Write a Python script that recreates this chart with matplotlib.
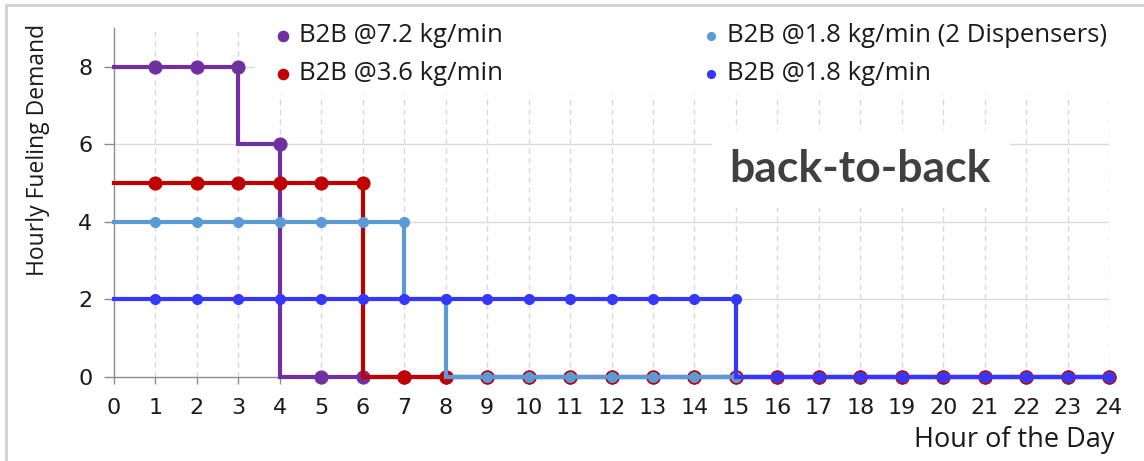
import matplotlib
matplotlib.use("Agg")
import matplotlib.pyplot as plt
from matplotlib.lines import Line2D
from matplotlib.patches import Rectangle

# Hourly fueling demand for back-to-back fueling scenarios
hours = list(range(0, 25))
b2b_72 = [8, 8, 8, 8, 6] + [0] * 20
b2b_36 = [5] * 7 + [0] * 18
b2b_18_two = [4] * 8 + [2] + [0] * 16
b2b_18 = [2] * 16 + [0] * 9

series_labels = ["B2B @7.2 kg/min", "B2B @3.6 kg/min",
                 "B2B @1.8 kg/min (2 Dispensers)", "B2B @1.8 kg/min"]
series_colors = ["#7030A0", "#C00000", "#5B9BD5", "#3636FF"]
series_msize = [9.2, 9.2, 7.0, 7.0]
y_ticks = [0, 2, 4, 6, 8]

W, H = 1144, 461
fig = plt.figure(figsize=(W / 100, H / 100), dpi=100)
ax = fig.add_axes([114 / W, 1 - 377 / H, (1109 - 114) / W, (377 - 28) / H])

series = [b2b_72, b2b_36, b2b_18_two, b2b_18]
for i, (vals, col, ms) in enumerate(zip(series, series_colors, series_msize)):
    ax.plot(hours, vals, drawstyle="steps-pre", color=col, lw=3.0,
            zorder=3 + i, solid_joinstyle="miter", clip_on=False)
    ax.plot(hours[1:], vals[1:], ls="none", marker="o", ms=ms, color=col,
            zorder=3 + i, clip_on=False)

ax.set_xlim(0, 24)
ax.set_ylim(0, 9)
ax.set_xticks(hours)
ax.set_yticks(y_ticks)

# grid: solid horizontal, dashed vertical
for y in y_ticks[1:]:
    ax.axhline(y, color="#d9d9d9", lw=1.0, zorder=1)
for x in hours[1:]:
    ax.axvline(x, color="#d9d9d9", lw=1.0, ls=(0, (4, 3)), zorder=1)

for s in ["top", "right"]:
    ax.spines[s].set_visible(False)
for s in ["left", "bottom"]:
    ax.spines[s].set_color("#8c8c8c")
    ax.spines[s].set_linewidth(1.0)
ax.tick_params(axis="x", direction="out", length=5, width=1, color="#8c8c8c",
               labelsize=16, pad=10, labelcolor="#1a1a1a")
ax.tick_params(axis="y", direction="out", length=7.5, width=1, color="#8c8c8c",
               labelsize=16, pad=8, labelcolor="#1a1a1a")

# legend: white panel with two columns of marker + label entries
fig.add_artist(Rectangle((255 / W, 1 - 95 / H), (1140 - 255) / W, (95 - 14) / H,
                         transform=fig.transFigure, facecolor="white",
                         edgecolor="none", zorder=9))
legend_pos = [(283, 36), (283, 74), (711, 36), (711, 74)]
for (px, py), col, ms, lab in zip(legend_pos, series_colors, series_msize, series_labels):
    fig.add_artist(Line2D([px / W], [1 - py / H], transform=fig.transFigure,
                          ls="none", marker="o", ms=ms * 0.8, color=col, zorder=10))
    fig.text((px + 16) / W, 1 - py / H, lab, ha="left", va="center",
             fontsize=18.5, family="Open Sans", color="#1a1a1a", zorder=10)

# annotation panel
fig.add_artist(Rectangle((712 / W, 1 - 208 / H), (1010 - 712) / W, (208 - 130) / H,
                         transform=fig.transFigure, facecolor="white",
                         edgecolor="none", zorder=9))
fig.text(860 / W, 1 - 169 / H, "back-to-back", ha="center", va="center",
         fontsize=32, fontweight="bold", family="Lato", color="#404040", zorder=10)

fig.text(38 / W, 1 - 150 / H, "Hourly Fueling Demand", rotation=90,
         ha="center", va="center", fontsize=16.5, family="Open Sans", color="#1a1a1a")
fig.text(1115 / W, 1 - 440 / H, "Hour of the Day", ha="right", va="center",
         fontsize=19.5, family="Open Sans", color="#1a1a1a")

# outer frame lines
fig.add_artist(Line2D([6 / W, 1], [1 - 5 / H, 1 - 5 / H], transform=fig.transFigure,
                      color="#d0d0d0", lw=2))
fig.add_artist(Line2D([6 / W, 6 / W], [0, 1 - 5 / H], transform=fig.transFigure,
                      color="#d0d0d0", lw=2))

fig.savefig("out.png", dpi=100)
